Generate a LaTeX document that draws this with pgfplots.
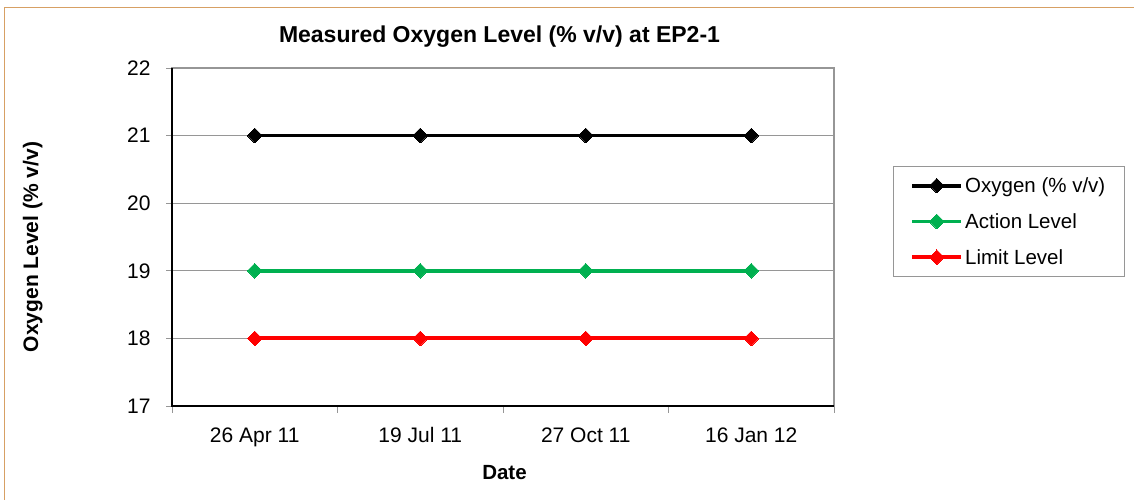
\documentclass[border=0pt]{standalone}
\usepackage{pgfplots}
\pgfplotsset{compat=1.18}
\usepackage{fontspec}
\setmainfont{Liberation Sans}
\definecolor{xlgreen}{RGB}{0,176,80}
\definecolor{gridgray}{RGB}{150,150,150}
\definecolor{framecol}{RGB}{215,160,100}
\begin{document}
\begin{tikzpicture}[x=1pt,y=1pt]
\path[use as bounding box] (0,0) rectangle (1134,500);
\draw[framecol, line width=1pt] (4.5,0) -- (4.5,492.5) -- (1134,492.5);
\node[font=\fontsize{23}{27}\selectfont\bfseries, anchor=base] at (499.5,457) {Measured Oxygen Level (\% v/v) at EP2-1};
\node[font=\fontsize{20.5}{24}\selectfont\bfseries, anchor=base] at (504.5,20) {Date};
\node[font=\fontsize{21}{25}\selectfont\bfseries, anchor=base, rotate=90] at (38,253) {Oxygen Level (\% v/v)};
\begin{axis}[
  at={(172pt,432pt)}, anchor=north west,
  width=662pt, height=338pt, scale only axis,
  xmin=-0.5, xmax=3.5, ymin=17, ymax=22,
  xtick={0,1,2,3},
  xticklabels={26 Apr 11,19 Jul 11,27 Oct 11,16 Jan 12},
  minor xtick={-0.5,0.5,1.5,2.5,3.5},
  ytick={17,18,19,20,21,22},
  tick pos=left,
  tick align=outside,
  major tick length=6pt, minor tick length=7pt,
  major x tick style={draw=none},
  every tick/.style={gridgray, line width=0.8pt},
  minor tick style={gridgray, line width=0.8pt},
  ymajorgrids, major grid style={gridgray, line width=0.9pt},
  axis line style={gridgray, line width=1.6pt},
  /pgf/number format/assume math mode=true,
  ticklabel style={font=\fontsize{21}{25}\selectfont},
  yticklabel style={xshift=-12pt},
  xticklabel style={anchor=base, yshift=-31pt},
  legend style={at={(1.089,0.710)}, anchor=north west, draw=gridgray, line width=0.9pt,
    font=\fontsize{20.5}{24}\selectfont, inner xsep=17pt, inner ysep=9pt, row sep=15.5pt,
    cells={anchor=west}},
  legend image code/.code={\draw[mark repeat=2,mark phase=2,#1] plot coordinates {(0pt,0pt) (24.5pt,0pt) (49pt,0pt)};},
  clip=false,
]
\addplot[black, line width=3.8pt, mark=square*, mark size=5.2pt, mark options={rotate=45, line width=0pt}]
  coordinates {(0,21) (1,21) (2,21) (3,21)};
\addlegendentry{Oxygen (\% v/v)}
\addplot[xlgreen, line width=3.8pt, mark=square*, mark size=5.2pt, mark options={rotate=45, line width=0pt}]
  coordinates {(0,19) (1,19) (2,19) (3,19)};
\addlegendentry{Action Level}
\addplot[red, line width=3.8pt, mark=square*, mark size=5.2pt, mark options={rotate=45, line width=0pt}]
  coordinates {(0,18) (1,18) (2,18) (3,18)};
\addlegendentry{Limit Level}
\draw[black, line width=1.6pt] (rel axis cs:0,1) -- (rel axis cs:0,0) -- (rel axis cs:1,0);
\end{axis}
\end{tikzpicture}
\end{document}
